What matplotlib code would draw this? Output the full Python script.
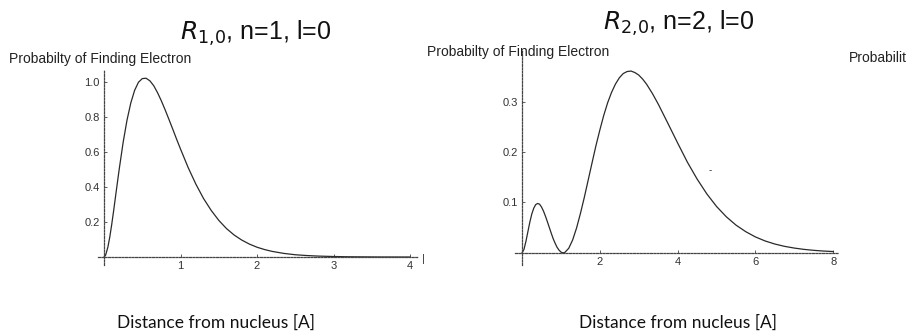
import numpy as np
import matplotlib
matplotlib.use("Agg")
import matplotlib.pyplot as plt

# values (distance in A, probability)
r1 = [0, 0.02, 0.05, 0.075, 0.1, 0.125, 0.15, 0.175, 0.2, 0.25, 0.3, 0.35, 0.4, 0.45,
      0.5, 0.55, 0.6, 0.65, 0.7, 0.75, 0.8, 0.85, 0.9, 0.95, 1.0, 1.1, 1.2, 1.3, 1.4,
      1.5, 1.6, 1.7, 1.8, 1.9, 2.0, 2.1, 2.2, 2.35, 2.5, 2.65, 2.8, 3.0, 3.2, 3.6, 4.0]
p1 = [0, 0.010, 0.056, 0.114, 0.185, 0.263, 0.345, 0.427, 0.507, 0.656, 0.782, 0.881,
      0.953, 0.999, 1.020, 1.022, 1.007, 0.979, 0.939, 0.892, 0.840, 0.785, 0.729,
      0.672, 0.617, 0.511, 0.417, 0.335, 0.267, 0.2095, 0.163, 0.126, 0.097, 0.074,
      0.056, 0.0425, 0.032, 0.0207, 0.013, 0.0085, 0.0054, 0.0029, 0.0015, 0.0004, 0.0001]

r2 = [0, 0.05, 0.1, 0.15, 0.2, 0.25, 0.3, 0.35, 0.4, 0.45, 0.5, 0.55, 0.6, 0.65, 0.7,
      0.75, 0.8, 0.85, 0.9, 0.95, 1.0, 1.03, 1.06, 1.1, 1.2, 1.3, 1.4, 1.5, 1.6, 1.7,
      1.8, 1.9, 2.0, 2.1, 2.2, 2.3, 2.4, 2.5, 2.6, 2.7, 2.8, 2.9, 3.0, 3.1, 3.2, 3.35,
      3.5, 3.75, 4.0, 4.25, 4.5, 4.75, 5.0, 5.25, 5.5, 5.75, 6.0, 6.25, 6.5, 6.75, 7.0,
      7.25, 7.5, 7.75, 8.0]
p2 = [0, 0.007, 0.023, 0.042, 0.061, 0.077, 0.0885, 0.0957, 0.098, 0.0965, 0.091,
      0.083, 0.073, 0.062, 0.0505, 0.039, 0.028, 0.019, 0.011, 0.0053, 0.0015, 0.0004,
      0.0, 0.0008, 0.009, 0.0255, 0.049, 0.078, 0.110, 0.1445, 0.179, 0.213, 0.244,
      0.273, 0.298, 0.3185, 0.335, 0.3475, 0.356, 0.360, 0.361, 0.358, 0.353, 0.345,
      0.335, 0.3165, 0.2955, 0.257, 0.218, 0.180, 0.1465, 0.117, 0.092, 0.0716, 0.055,
      0.042, 0.0315, 0.0235, 0.0174, 0.0128, 0.0094, 0.0068, 0.0049, 0.0035, 0.0025]

ticks1_y = [0.2, 0.4, 0.6, 0.8, 1.0]
ticks1_x = [1, 2, 3, 4]
ticks2_y = [0.1, 0.2, 0.3]
ticks2_x = [2, 4, 6, 8]

ylab = "Probabilty of Finding Electron"
xlab = "Distance from nucleus [A]"

plt.rcParams['font.family'] = ['Liberation Sans', 'DejaVu Sans']

fig = plt.figure(figsize=(9.1, 3.31), dpi=100)

def style(ax, xt, yt, ylabels):
    for s in ['top', 'right']:
        ax.spines[s].set_visible(False)
    for s in ['left', 'bottom']:
        ax.spines[s].set_position(('data', 0))
        ax.spines[s].set_linestyle((0, (1.5, 1.2)))
        ax.spines[s].set_color('#444444')
        ax.spines[s].set_linewidth(0.9)
    ax.set_xticks(xt)
    ax.set_yticks(yt)
    ax.set_xticklabels([str(v) for v in xt])
    ax.set_yticklabels(ylabels)
    ax.tick_params(direction='in', length=2.5, width=0.6, colors='#444444',
                   labelsize=8, labelcolor='#333333', pad=3)

# panel 1
ax1 = fig.add_axes([0.1076, 0.1997, 0.3514, 0.5893])
ax1.plot(r1, p1, color='#2a2a2a', lw=0.9)
ax1.set_xlim(-0.08, 4.1)
ax1.set_ylim(-0.045, 1.07)
style(ax1, ticks1_x, ticks1_y, ['0.2', '0.4', '0.6', '0.8', '1.0'])

# panel 2
ax2 = fig.add_axes([0.566, 0.1997, 0.3548, 0.6450])
ax2.plot(r2, p2, color='#2a2a2a', lw=0.9)
ax2.set_xlim(-0.18, 8.12)
ax2.set_ylim(-0.024, 0.40)
style(ax2, ticks2_x, ticks2_y, ['0.1', '0.2', '0.3'])

# titles
fig.text(256 / 910, 1 - 40 / 331, r"$\mathit{R}_{1{,}0}$, n=1, l=0", fontsize=18,
         ha='center', va='baseline', color='#111111')
fig.text(679 / 910, 1 - 30 / 331, r"$\mathit{R}_{2{,}0}$, n=2, l=0", fontsize=18,
         ha='center', va='baseline', color='#111111')

# y labels (the third one is only partly on the page)
fig.text(9 / 910, 1 - 63 / 331, ylab, fontsize=10, ha='left', va='baseline', color='#222222')
fig.text(427 / 910, 1 - 56 / 331, ylab, fontsize=10, ha='left', va='baseline', color='#222222')
fig.text(907 / 910, 1 - 62 / 331, "Probabilit", fontsize=10, ha='right', va='baseline',
         color='#222222')

# x labels
fig.text(216 / 910, 1 - 328 / 331, xlab, fontsize=12.5, family='Lato',
         ha='center', va='baseline', color='#111111')
fig.text(678 / 910, 1 - 328 / 331, xlab, fontsize=12.5, family='Lato',
         ha='center', va='baseline', color='#111111')

# stray scan marks
fig.text(423 / 910, 1 - 262 / 331, "|", fontsize=8, ha='center', va='baseline', color='#333333')
fig.text(710 / 910, 1 - 173 / 331, "-", fontsize=7, ha='center', va='baseline', color='#333333')

fig.savefig("out.png", dpi=100)
